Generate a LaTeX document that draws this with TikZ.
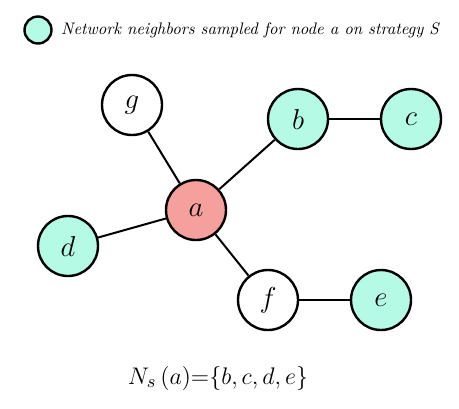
\documentclass[tikz,border=0pt]{standalone}
\usepackage{amsmath}
\usepackage{amssymb}
\usepackage{graphicx}
\usetikzlibrary{arrows.meta}

\definecolor{sampled}{RGB}{180,250,228}
\definecolor{center}{RGB}{245,160,156}

\tikzset{
    vertex/.style={circle, draw, line width=1.2pt, minimum size=30pt, inner sep=0pt, font=\Large},
    link/.style={line width=1pt}
}

\begin{document}
\begin{tikzpicture}[x=0.5pt, y=-0.5pt]
    \useasboundingbox (0,0) rectangle (459,408);

    % --- Legend ---
    \node[circle, draw, line width=1.2pt, fill=sampled, minimum size=13.5pt, inner sep=0pt] (key) at (38,30) {};
    \node[right=2pt, inner sep=2pt] (keytext) at (key.east) {\scalebox{0.835}{\itshape Network neighbors sampled for node a on strategy S}};

    % --- Nodes ---
    \node[vertex, fill=center] (a) at (196,210) {$a$};
    \node[vertex, fill=sampled] (b) at (298,119) {$b$};
    \node[vertex, fill=sampled] (c) at (411,119) {$c$};
    \node[vertex, fill=sampled] (d) at (68,246) {$d$};
    \node[vertex, fill=sampled] (e) at (381,300) {$e$};
    \node[vertex, fill=white] (f) at (268,300) {$f$};
    \node[vertex, fill=white] (g) at (132,105) {$g$};

    % --- Edges ---
    \draw[link] (a) -- (g);
    \draw[link] (a) -- (b);
    \draw[link] (b) -- (c);
    \draw[link] (a) -- (d);
    \draw[link] (a) -- (f);
    \draw[link] (f) -- (e);

    % Sampled set
    \node[font=\fontsize{13}{15}\selectfont] (set) at (218,378) {$N_s\,(a){=}\{b,c,d,e\}$};
\end{tikzpicture}
\end{document}
